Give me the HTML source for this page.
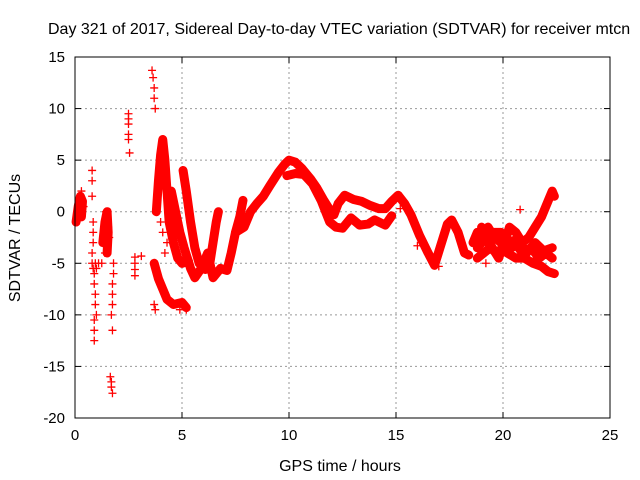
<!DOCTYPE html>
<html><head><meta charset="utf-8"><style>
body{margin:0;background:#fff}
svg{display:block;font-family:"Liberation Sans",sans-serif}
</style></head><body>
<svg id="chart" width="640" height="480" viewBox="0 0 640 480">
<text x="48" y="34" font-size="16">Day 321 of 2017, Sidereal Day-to-day VTEC variation (SDTVAR) for receiver mtcn</text>
<text transform="translate(20,238) rotate(-90)" text-anchor="middle" font-size="16">SDTVAR / TECUs</text>
<text x="340" y="471" text-anchor="middle" font-size="16">GPS time / hours</text>
<g id="grid"></g><g id="marks"></g>
<rect x="75" y="57" width="535" height="361" fill="none" stroke="#000" stroke-width="1"/>
</svg>
<script>
const xTicks=[0,5,10,15,20,25];
const yTicks=[15,10,5,0,-5,-10,-15,-20];
// tracks: [hour, TECU]
const trackDense1=[[7.5,-2],[7.9,-1.5],[8.2,0],[8.5,0.8],[8.8,1.5],[9.1,2.5],[9.5,3.8],[9.8,4.6],[10.0,5],[10.3,4.8],[10.6,4.2],[11.0,3.2],[11.3,2.3],[11.6,1.2],[11.9,0.2],[12.1,-0.3],[12.3,0.8],[12.6,1.6],[13.0,1.2],[13.4,1.0],[13.8,0.6],[14.2,0.3],[14.5,0.3],[14.8,1.0],[15.1,1.6],[15.4,0.8],[15.7,-0.3],[16.1,-2.3],[16.5,-4],[16.8,-5.2],[17.1,-3.2],[17.4,-1.2],[17.6,-0.8],[17.9,-2],[18.2,-4],[18.4,-4.2]];
const trackDense2=[[9.9,3.5],[10.3,3.7],[10.7,3.6],[11.1,2.7],[11.5,1.1],[11.9,-1],[12.2,-1.5],[12.5,-1.6],[12.9,-0.6],[13.3,-1.3],[13.7,-1.2],[14.0,-0.8],[14.5,-1.3],[14.8,-0.4]];
const trackDense3=[[3.8,0],[3.9,3],[4.0,5.5],[4.1,7],[4.2,5],[4.3,2],[4.4,-1],[4.6,-3],[4.8,-4.5],[5.0,-5],[5.3,-4.8]];
const trackDense4=[[3.7,-5],[3.9,-6.5],[4.1,-7.5],[4.3,-8.5],[4.6,-9],[5.0,-8.8],[5.2,-9.3]];
const trackDense5=[[5.05,4],[5.2,2],[5.4,-1],[5.6,-3.5],[5.8,-5],[6.1,-5.6],[6.3,-5],[6.45,-3],[6.6,-1],[6.7,0]];
const trackDense6=[[4.5,2],[4.7,0],[4.9,-2],[5.1,-3.5],[5.4,-5.5],[5.6,-6.4],[5.9,-5.5],[6.2,-4],[6.45,-6.4],[6.8,-5.5],[7.1,-5.7],[7.3,-4],[7.5,-2],[7.7,-0.5],[7.85,1.1]];
const trackDense7=[[18.6,-3],[18.8,-2],[19.0,-2.5],[19.3,-1.5],[19.6,-2.5],[19.9,-3],[20.2,-4],[20.6,-4.5],[21.0,-4.5],[21.4,-5],[21.8,-5.3],[22.1,-5.8],[22.4,-6]];
const trackDense8=[[18.8,-4.5],[19.1,-4],[19.4,-3.5],[19.7,-4],[20.0,-3.5],[20.3,-1.5],[20.6,-2],[20.9,-3],[21.2,-2.5],[21.5,-1.5],[21.8,-0.5],[22.1,1],[22.3,2],[22.4,1.5]];
const trackDense9=[[18.8,-3.5],[19.2,-2.5],[19.5,-3.5],[19.8,-4.5],[20.1,-2.5],[20.4,-3.5],[20.8,-3],[21.1,-4],[21.5,-3],[21.9,-3.8],[22.3,-3.5]];
const trackDense10=[[19.0,-1.5],[19.3,-3],[19.6,-2],[19.9,-2],[20.2,-3],[20.5,-2.8],[20.9,-4],[21.3,-3.5],[21.7,-4.5],[22.0,-4],[22.3,-4.5]];
const trackDense11=[[0.05,-1],[0.15,0.5],[0.25,1.5],[0.35,1.0],[0.3,-0.5]];
const trackDense12=[[1.3,-3],[1.4,-1],[1.5,0],[1.55,-2],[1.5,-4]];
const sparse=[[0.05,-1],[0.1,0],[0.15,0.5],[0.2,1],[0.25,1.5],[0.3,2],[0.35,1],[0.4,0.5],[0.8,4],[0.8,3],[0.8,1.5],[0.85,-1],[0.85,-2],[0.85,-3],[0.8,-4],[0.8,-5],[0.85,-5.5],[0.9,-6],[0.9,-7],[0.95,-8],[0.95,-9],[1.0,-10],[0.9,-10.5],[0.9,-11.5],[0.9,-12.5],[0.95,-5],[1.0,-5.5],[1.1,-5],[1.3,-3],[1.35,-2],[1.4,-1],[1.45,0],[1.5,-0.5],[1.55,-1.5],[1.5,-3.5],[1.6,-2.5],[1.4,-4],[1.25,-5],[1.8,-5],[1.8,-6],[1.75,-7],[1.75,-8],[1.75,-9],[1.7,-10],[1.75,-11.5],[1.65,-16],[1.7,-16.5],[1.7,-17],[1.75,-17.6],[2.5,9.5],[2.5,9],[2.5,8.5],[2.5,7.5],[2.5,7],[2.55,5.7],[2.8,-4.4],[2.8,-5],[2.8,-5.6],[2.8,-6.2],[3.1,-4.3],[3.6,13.7],[3.65,13],[3.7,12],[3.7,11],[3.75,10],[3.7,-9],[3.75,-9.5],[4.0,-1],[4.1,-2],[4.3,-3],[4.2,-4],[4.5,-2],[4.9,-9.5],[5.2,-9.5],[19.2,-5],[17.0,-5.3],[16.0,-3.3],[15.2,0.3],[20.8,0.2],[21.5,-4.5]];
const x0=75,x1=610,y0=418,y1=57;
const sx=v=>x0+(v-0)/(25-0)*(x1-x0);
const sy=v=>y0-(v-(-20))/(15-(-20))*(y0-y1);
const NS="http://www.w3.org/2000/svg";
const grid=document.getElementById('grid'),marks=document.getElementById('marks');
function mk(t,a,p){const e=document.createElementNS(NS,t);for(const k in a)e.setAttribute(k,a[k]);p.appendChild(e);return e;}
xTicks.forEach(t=>{const x=sx(t);
 if(t>0&&t<25){const g=mk('line',{x1:x,x2:x,y1:y1,y2:y0,stroke:'#999','stroke-dasharray':'2,3'},grid);
 
 }
 mk('line',{x1:x,x2:x,y1:y0,y2:y0-6,stroke:'#000'},grid);mk('line',{x1:x,x2:x,y1:y1,y2:y1+6,stroke:'#000'},grid);
 const l=mk('text',{x:x,y:y0+22,'text-anchor':'middle','font-size':15},grid);l.textContent=t;
 
 });
yTicks.forEach(t=>{const y=sy(t);
 if(t>-20&&t<15){const g=mk('line',{x1:x0,x2:x1,y1:y,y2:y,stroke:'#999','stroke-dasharray':'2,3'},grid);
 
 }
 mk('line',{x1:x0,x2:x0+6,y1:y,y2:y,stroke:'#000'},grid);mk('line',{x1:x1,x2:x1-6,y1:y,y2:y,stroke:'#000'},grid);
 const l=mk('text',{x:x0-10,y:y+5,'text-anchor':'end','font-size':15},grid);l.textContent=t;
 
 });
function plus(h,v){const x=sx(h),y=sy(v);
 const p=mk('path',{d:`M${x-4},${y}h8M${x},${y-4}v8`,stroke:'#f00','stroke-width':1.3},marks);
 
 }
[trackDense1,trackDense2,trackDense3,trackDense4,trackDense5,trackDense6,trackDense7,trackDense8,trackDense9,trackDense10,trackDense11,trackDense12].forEach(tr=>{
 const pl=mk('polyline',{points:tr.map(p=>sx(p[0])+','+sy(p[1])).join(' '),fill:'none',stroke:'#f00','stroke-width':9,'stroke-linejoin':'round','stroke-linecap':'round'},marks);
 
 
 tr.forEach(p=>plus(p[0],p[1]));});
sparse.forEach(p=>plus(p[0],p[1]));
</script>
</body></html>
